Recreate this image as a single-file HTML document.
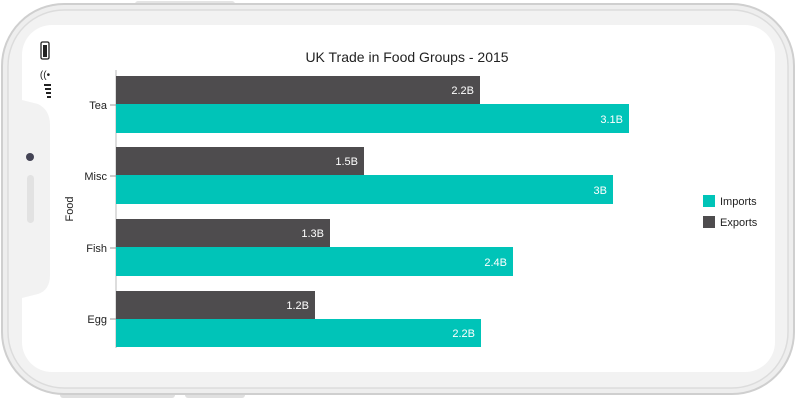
<!DOCTYPE html>
<html><head><style>
body{margin:0;width:798px;height:400px;background:#fff;overflow:hidden;font-family:"Liberation Sans",sans-serif}
</style></head><body>
<svg width="798" height="400" xmlns="http://www.w3.org/2000/svg" font-family="Liberation Sans, sans-serif">
<rect x="135" y="1" width="100" height="6" rx="3" fill="#e4e4e4"/>
<rect x="60" y="392" width="60" height="6" rx="3" fill="#e0e0e0"/>
<rect x="115" y="392" width="60" height="6" rx="3" fill="#e0e0e0"/>
<rect x="185" y="392" width="60" height="6" rx="3" fill="#e0e0e0"/>
<rect x="2" y="4" width="792" height="390" rx="62" fill="#eeeeee" stroke="#cfcfcf" stroke-width="2"/>
<rect x="8" y="10" width="780" height="378" rx="56" fill="#f2f2f2" stroke="#dcdcdc" stroke-width="1.5"/>
<rect x="22" y="25" width="753" height="347" rx="30" fill="#fff"/>
<path d="M22 100 L38 104 Q50 110 50 125 L50 275 Q50 290 38 294 L22 298 Z" fill="#f2f2f2"/>
<circle cx="30" cy="157" r="4" fill="#445"/>
<rect x="27" y="175" width="7" height="48" rx="3.5" fill="#e2e2e2"/>
<rect x="41" y="42" width="8" height="17" rx="1.5" fill="none" stroke="#222" stroke-width="1.3"/>
<rect x="43" y="45" width="4" height="12" fill="#222"/>
<text x="45" y="78" font-size="10" text-anchor="middle" fill="#222">((•</text>
<rect x="44" y="84" width="7" height="2" fill="#222"/><rect x="45" y="88" width="6" height="2" fill="#222"/><rect x="46" y="92" width="5" height="2" fill="#222"/><rect x="47" y="96" width="4" height="2" fill="#222"/>
<text x="407" y="62" font-size="14" text-anchor="middle" fill="#222">UK Trade in Food Groups - 2015</text>
<line x1="116" y1="70" x2="116" y2="348" stroke="#bbb" stroke-width="1"/>
<g fill="#4e4c4e">
<rect x="116" y="76" width="364" height="28"/>
<rect x="116" y="147" width="248" height="28"/>
<rect x="116" y="219" width="214" height="28"/>
<rect x="116" y="291" width="199" height="28"/>
</g>
<g fill="#00c4b8">
<rect x="116" y="104" width="513" height="29"/>
<rect x="116" y="175" width="497" height="29"/>
<rect x="116" y="247" width="397" height="29"/>
<rect x="116" y="319" width="365" height="28"/>
</g>
<g font-size="11" fill="#fff" text-anchor="end">
<text x="474" y="94">2.2B</text><text x="623" y="123">3.1B</text>
<text x="358" y="165">1.5B</text><text x="607" y="194">3B</text>
<text x="324" y="237">1.3B</text><text x="507" y="266">2.4B</text>
<text x="309" y="309">1.2B</text><text x="475" y="337">2.2B</text>
</g>
<g stroke="#999"><line x1="110" y1="105" x2="116" y2="105"/><line x1="110" y1="176" x2="116" y2="176"/><line x1="110" y1="248" x2="116" y2="248"/><line x1="110" y1="319" x2="116" y2="319"/></g>
<g font-size="11" fill="#222" text-anchor="end">
<text x="107" y="109">Tea</text><text x="107" y="180">Misc</text><text x="107" y="252">Fish</text><text x="107" y="323">Egg</text>
</g>
<text transform="translate(73,209) rotate(-90)" font-size="11" fill="#222" text-anchor="middle">Food</text>
<rect x="703" y="195" width="12" height="12" fill="#00c4b8"/>
<rect x="703" y="216" width="12" height="12" fill="#4e4c4e"/>
<text x="720" y="205" font-size="11" fill="#222">Imports</text>
<text x="720" y="226" font-size="11" fill="#222">Exports</text>
</svg>
</body></html>
